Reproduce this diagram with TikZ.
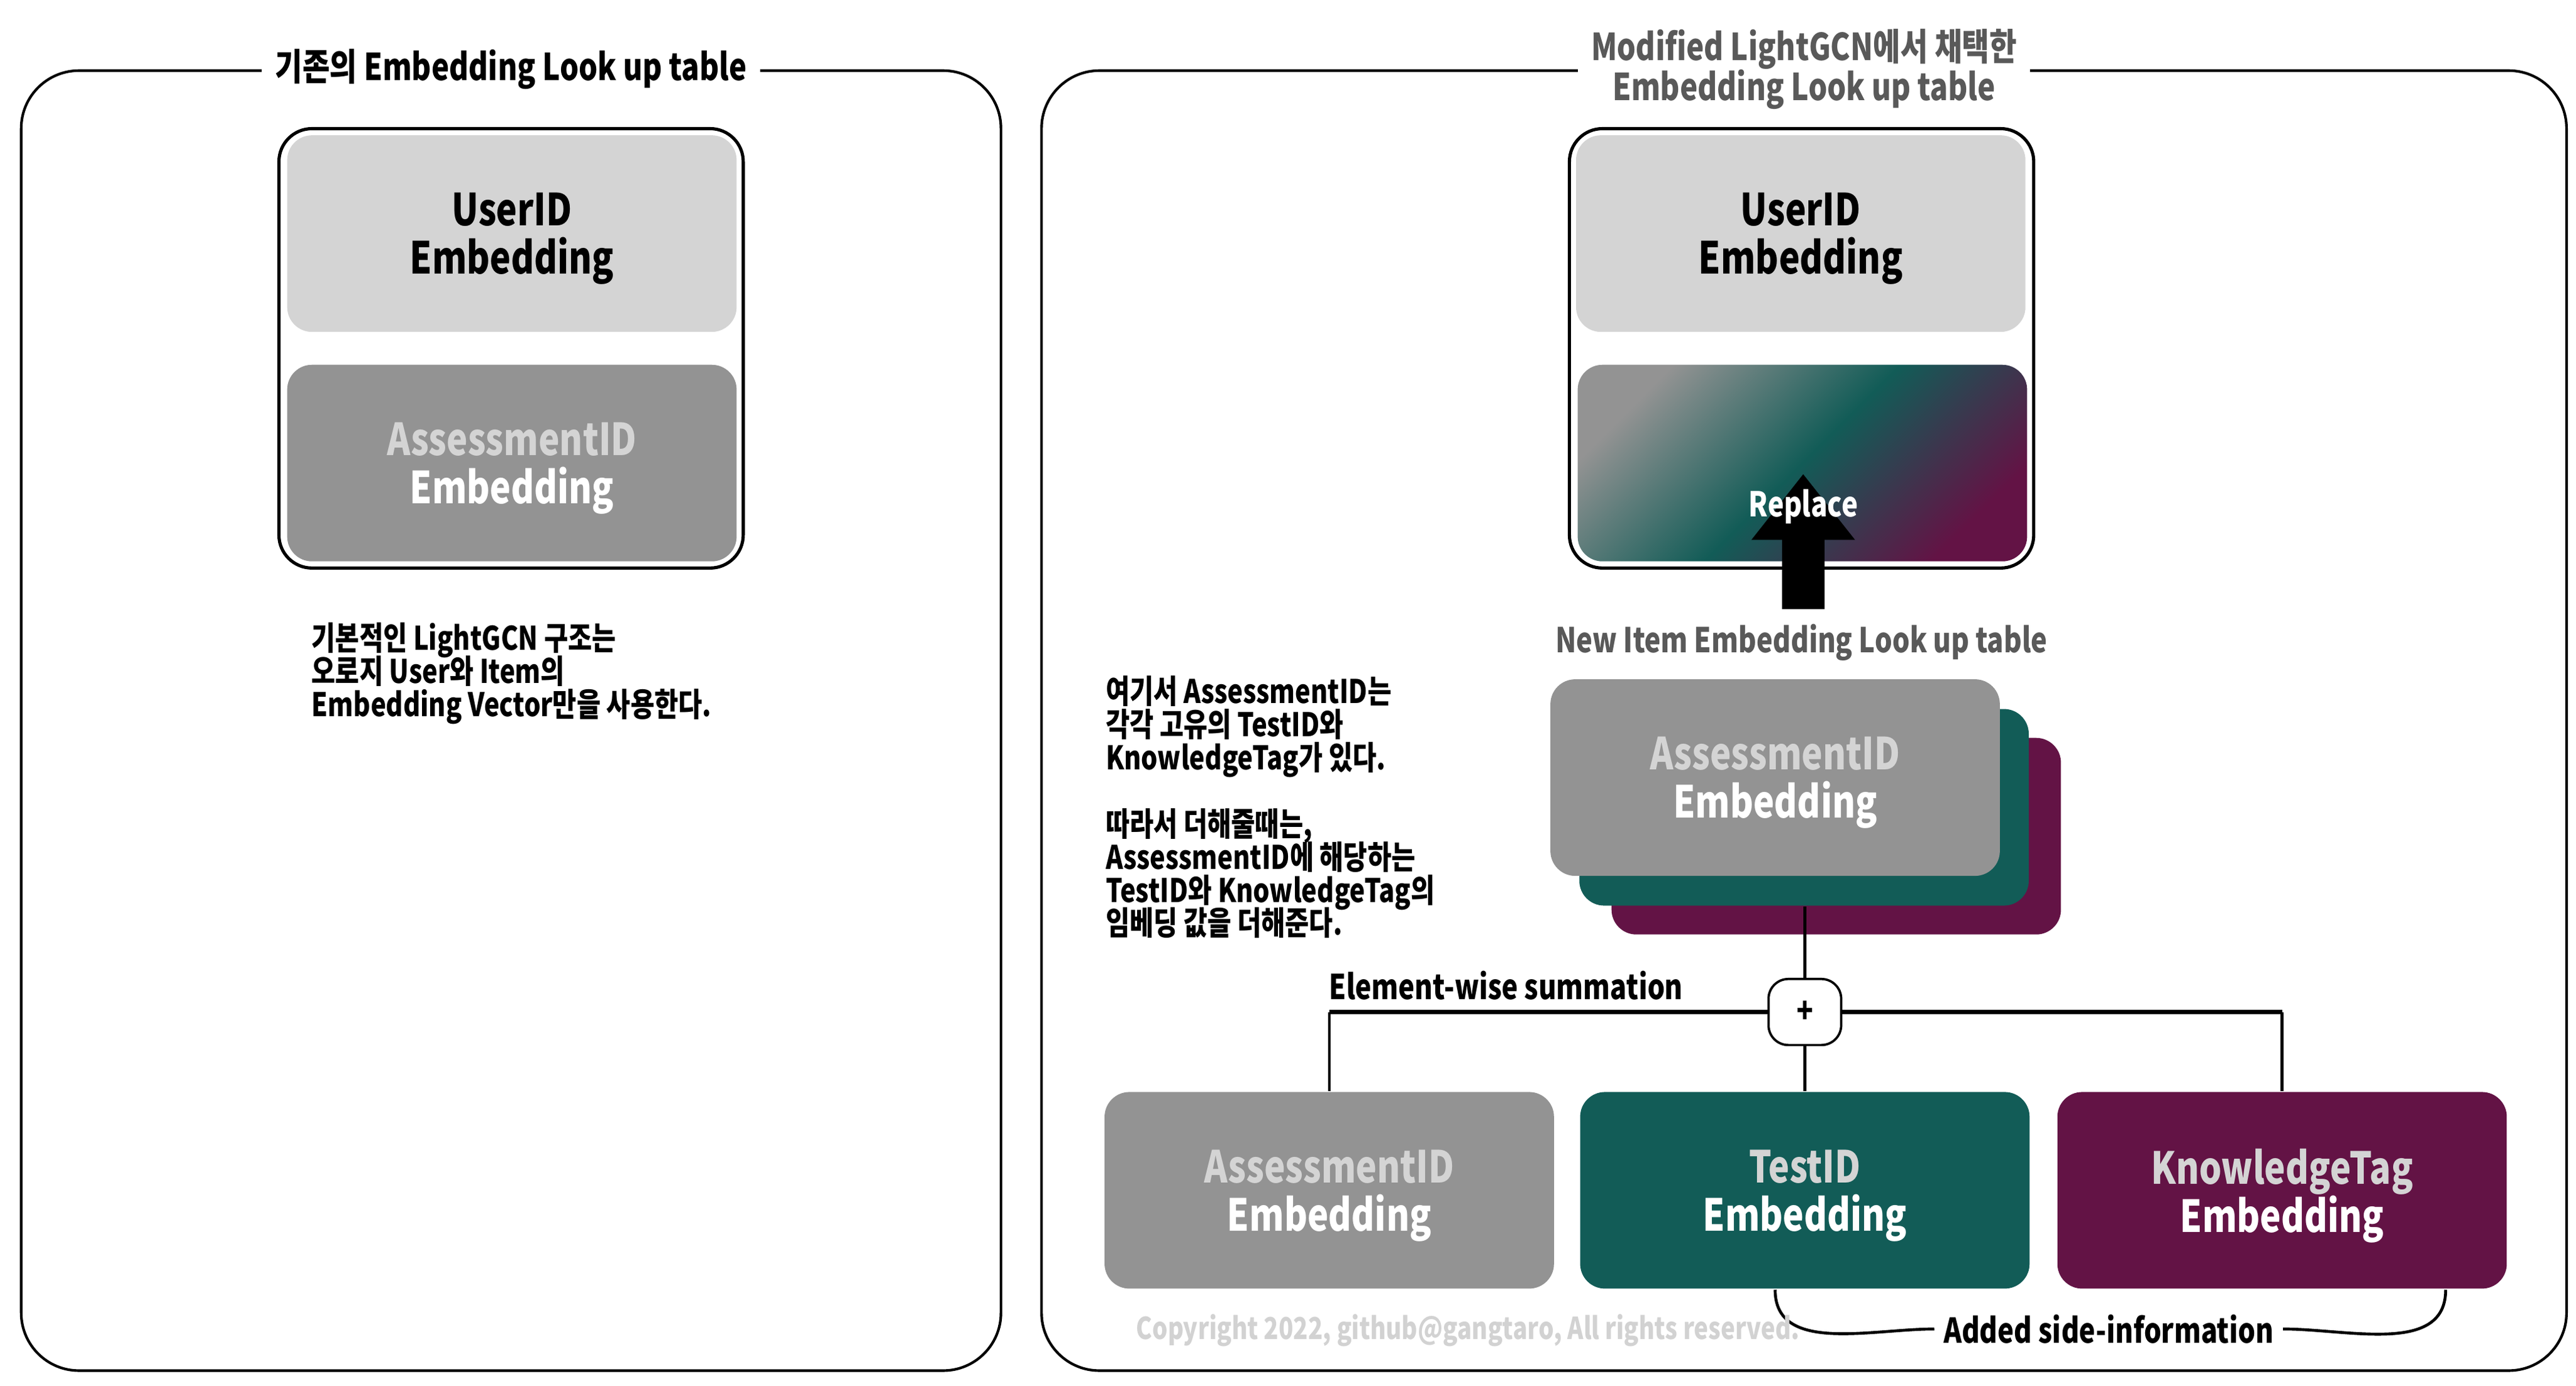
\documentclass[tikz,border=0pt]{standalone}
\usepackage{fontspec}
\setmainfont{Noto Sans CJK KR}[FakeStretch=0.8]
\usetikzlibrary{arrows.meta}
\definecolor{lightbox}{HTML}{D4D4D4}
\definecolor{midbox}{HTML}{939393}
\definecolor{tealbox}{HTML}{125C57}
\definecolor{plumbox}{HTML}{631345}
\definecolor{headgray}{HTML}{595959}
\definecolor{faint}{HTML}{D2D2D2}
\newcommand\tightlines{\lineskiplimit=-5pt\relax}
\begin{document}
\begin{tikzpicture}
      [x=0.01cm,y=-0.01cm,
      every node/.style={align=center,inner sep=0pt,font=\bfseries},
      panel/.style={draw,line width=0.45pt,rounded corners=0.35cm,minimum width=#1,minimum height=7.87cm},
      frame/.style={draw,line width=0.55pt,rounded corners=0.2cm,minimum width=2.81cm,minimum height=2.66cm},
      emb/.style={rounded corners=0.15cm,minimum width=2.72cm,minimum height=1.19cm,text depth=0pt,text=white,font=\bfseries\fontsize{7.6}{8.3}\selectfont},
      heading/.style={fill=white,inner xsep=0.08cm,font=\bfseries\fontsize{6.4}{6.9}\selectfont\tightlines},
      note/.style={align=left,anchor=west,font=\bfseries\fontsize{5.6}{5.7}\selectfont\tightlines},
      small/.style={font=\bfseries\fontsize{5.9}{6.5}\selectfont},
      link/.style={line width=0.5pt}]
\useasboundingbox (0,0) rectangle (1560,839.5);
\node[panel=5.93cm] (lpanel) at (309.5,436.5) {};
\node[heading] (ltitle) at (lpanel.north) {기존의 Embedding Look up table};
\node[frame] (lframe) at (309.5,211) {};
\node[emb,fill=lightbox,text=black] (luser) at (310,141.5) {UserID\\Embedding};
\node[emb,fill=midbox] (lasmt) at (310,280.5) {\textcolor{lightbox}{AssessmentID}\\Embedding};
\node[note] (lnote) at (188,408) {기본적인 LightGCN 구조는\\오로지 User와 Item의\\Embedding Vector만을 사용한다.};

\node[panel=9.23cm] (rpanel) at (1092.5,436.5) {};
\node[heading,text=headgray] (rtitle) at (rpanel.north) {Modified LightGCN에서 채택한\\Embedding Look up table};
\node[frame] (rframe) at (1091,211) {};
\node[emb,fill=lightbox,text=black] (ruser) at (1090.5,141.5) {UserID\\Embedding};
\node[emb,left color=midbox,right color=plumbox,middle color=tealbox,shading angle=45] (rmix) at (1091.5,280.5) {};
\coordinate (rfrom) at (1092,369);
\coordinate (rto) at (1092,287);
\draw[line width=0.26cm,-{Triangle[length=0.4cm,width=0.6cm]}] (rfrom) -- (rto);
\node[small,text=white] (replace) at (1092,307) {Replace};
\node[small,text=headgray] (newtitle) at (1091,389) {New Item Embedding Look up table};

\node[emb,fill=plumbox] (istack3) at (1112,506.5) {};
\node[emb,fill=tealbox] (istack2) at (1092.5,489) {};
\node[emb,fill=midbox] (istack1) at (1075,471) {\textcolor{lightbox}{AssessmentID}\\Embedding};
\node[note] (rnote) at (669,489) {여기서 AssessmentID는\\각각 고유의 TestID와\\KnowledgeTag가 있다.\\ \\따라서 더해줄때는,\\AssessmentID에 해당하는\\TestID와 KnowledgeTag의\\임베딩 값을 더해준다.};

\node[draw,fill=white,rounded corners=0.12cm,minimum width=0.44cm,minimum height=0.4cm,small] (plus) at (1093,613) {+};
\node[emb,fill=midbox] (aemb) at (805,721) {\textcolor{lightbox}{AssessmentID}\\Embedding};
\node[emb,fill=tealbox] (temb) at (1093,721) {\textcolor{lightbox}{TestID}\\Embedding};
\node[emb,fill=plumbox] (kemb) at (1382,721) {\textcolor{lightbox}{KnowledgeTag}\\Embedding};
\node[small] (sumlbl) at (912,597) {Element-wise summation};
\draw[link] (plus.north |- istack2.south) -- (plus.north);
\draw[link,line width=0.7pt] (plus.west) -- (aemb.north |- plus.west);
\draw[link] (aemb.north |- plus.west) -- (aemb.north);
\draw[link,line width=0.7pt] (plus.east) -- (kemb.north |- plus.east);
\draw[link] (kemb.north |- plus.east) -- (kemb.north);
\draw[link] (plus.south) -- (temb.north);

\node[small,fill=white,inner xsep=0.05cm] (side) at (1277,805) {Added side-information};
\draw[link] ([xshift=-0.18cm]temb.south) to[out=-90,in=180] (side.west);
\draw[link] (side.east) to[out=0,in=-90] ([xshift=0.99cm]kemb.south);
\node[text=faint,font=\bfseries\fontsize{5.2}{6}\selectfont] (copy) at (889,806) {Copyright 2022, github@gangtaro, All rights reserved.};
\end{tikzpicture}
\end{document}
